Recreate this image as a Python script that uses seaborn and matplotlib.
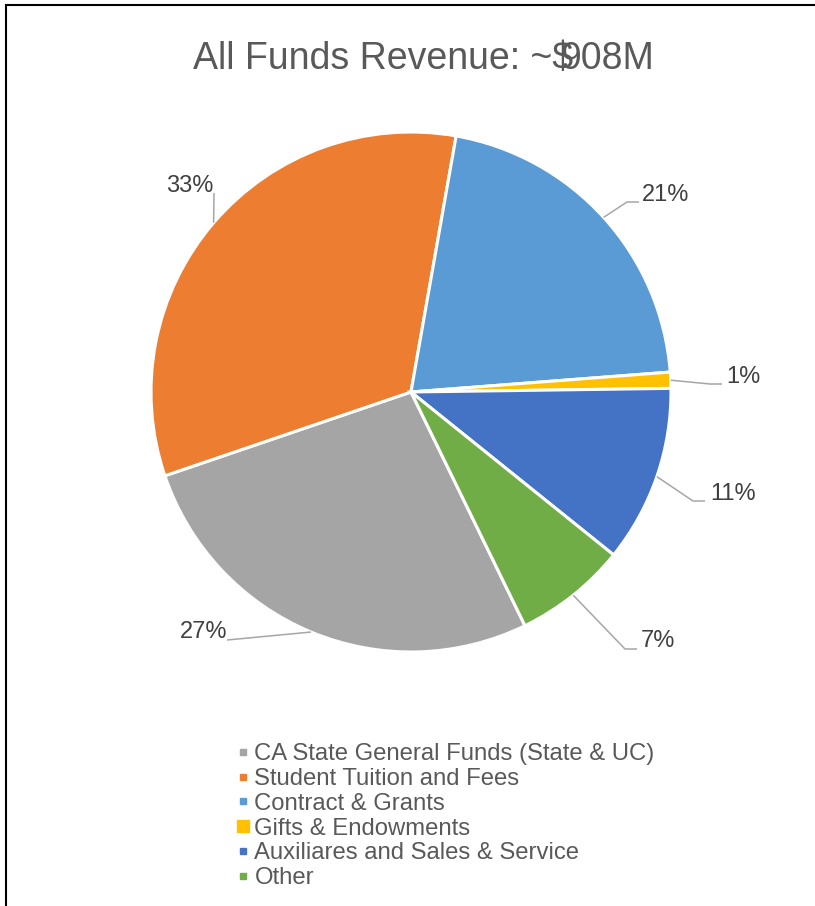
import matplotlib
matplotlib.use("Agg")
import matplotlib.pyplot as plt
import seaborn as sns
import numpy as np
from matplotlib.lines import Line2D
from matplotlib.patches import Rectangle

sns.set_theme(style="white")
plt.rcParams['font.family'] = ['Liberation Sans', 'DejaVu Sans']

# data
categories = ["CA State General Funds (State & UC)", "Student Tuition and Fees",
              "Contract & Grants", "Gifts & Endowments",
              "Auxiliares and Sales & Service", "Other"]
shares = [27, 33, 21, 1, 11, 7]
pct_labels = ["27%", "33%", "21%", "1%", "11%", "7%"]
colors = ["#A5A5A5", "#ED7D31", "#5B9BD5", "#FFC000", "#4472C4", "#70AD47"]

W, H = 815, 906
def px(x, y):
    # pixel layout (top-left origin) -> data coords
    return x, H - y

fig = plt.figure(figsize=(W / 100, H / 100), dpi=100)
ax = fig.add_axes([0, 0, 1, 1])

cx, cy = px(411, 392)
R = 260
wedges, _ = ax.pie(shares, colors=colors, startangle=-64, counterclock=False,
                   center=(cx, cy), radius=R,
                   wedgeprops=dict(edgecolor="white", linewidth=2.2))
ax.set_xlim(0, W)
ax.set_ylim(0, H)
ax.set_aspect("equal")
ax.set_axis_off()

# label layout: text centre, line end, elbow or not
label_pos = [(204, 632), (190, 186), (666, 195), (743, 377), (733, 494), (658, 641)]
line_end = [(227, 640), (214, 193), (639, 202), (722, 384), (705, 501), (637, 649)]
elbow = [False, False, True, True, True, True]

for w, lab, tp, le, el in zip(wedges, pct_labels, label_pos, line_end, elbow):
    mid = np.deg2rad((w.theta1 + w.theta2) / 2)
    ax_, ay_ = cx + R * np.cos(mid), cy + R * np.sin(mid)
    ex, ey = px(*le)
    if el:
        xs, ys = [ax_, ex - 12, ex], [ay_, ey, ey]
    else:
        xs, ys = [ax_, ex], [ay_, ey]
    ax.plot(xs, ys, color="#A6A6A6", lw=1.1, solid_capstyle="butt")
    ax.text(*px(*tp), lab, ha="center", va="center", fontsize=17, color="#404040")

# title (the 9 overlaps the $ as in the original)
ax.text(*px(573, 69), r"All Funds Revenue: ~\$", ha="right", va="baseline",
        fontsize=27, color="#595959")
ax.text(*px(560, 69), "908M", ha="left", va="baseline", fontsize=27, color="#595959")

# legend
msizes = [5, 5, 5, 8.6, 5, 5]
handles = [Line2D([], [], marker="s", linestyle="", color=c, markersize=m)
           for c, m in zip(colors, msizes)]
leg = ax.legend(handles, categories, loc="upper left",
                bbox_to_anchor=px(236.5, 743), bbox_transform=ax.transData,
                frameon=False, fontsize=17.2, handlelength=0.55, handletextpad=0.2,
                labelspacing=0.12, borderpad=0, borderaxespad=0)
for t in leg.get_texts():
    t.set_color("#595959")

# outer frame (top and left edges visible)
fig.add_artist(Rectangle((6 / W, -0.1), 1.2, 1.1 - 5.3 / H, transform=fig.transFigure,
                         fill=False, edgecolor="black", lw=1.5, clip_on=False))

fig.savefig("out.png", dpi=100)
